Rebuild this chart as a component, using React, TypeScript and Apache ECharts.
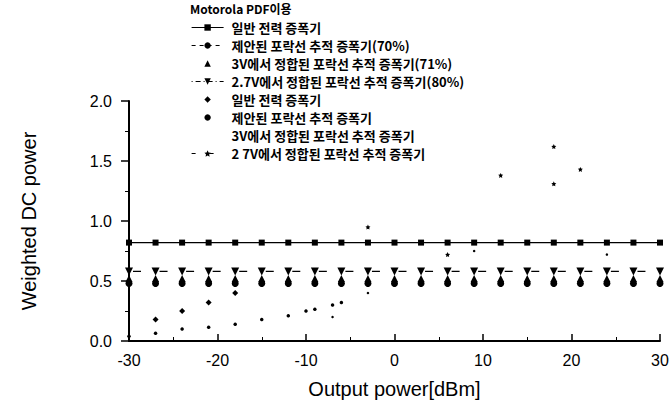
import React, { useEffect, useRef } from "react";
import * as echarts from "echarts";

// ---- Data ----
const outputPower = [-30, -27, -24, -21, -18, -15, -12, -9, -6, -3, 0, 3, 6, 9, 12, 15, 18, 21, 24, 27, 30];

const generalPA = [0.82, 0.82, 0.82, 0.82, 0.82, 0.82, 0.82, 0.82, 0.82, 0.82, 0.82, 0.82, 0.82, 0.82, 0.82, 0.82, 0.82, 0.82, 0.82, 0.82, 0.82];
const proposedET70 = [0.48, 0.48, 0.48, 0.48, 0.48, 0.48, 0.48, 0.48, 0.48, 0.48, 0.48, 0.48, 0.48, 0.48, 0.48, 0.48, 0.48, 0.48, 0.48, 0.48, 0.48];
const matched3V71 = [0.52, 0.52, 0.52, 0.52, 0.52, 0.52, 0.52, 0.52, 0.52, 0.52, 0.52, 0.52, 0.52, 0.52, 0.52, 0.52, 0.52, 0.52, 0.52, 0.52, 0.52];
const matched27V80 = [0.58, 0.58, 0.58, 0.58, 0.58, 0.58, 0.58, 0.58, 0.58, 0.58, 0.58, 0.58, 0.58, 0.58, 0.58, 0.58, 0.58, 0.58, 0.58, 0.58, 0.58];

const generalMeasured = [[-27, 0.18], [-24, 0.25], [-21, 0.32], [-18, 0.40]];
const proposedMeasured = [[-30, 0.04], [-27, 0.065], [-24, 0.10], [-21, 0.115], [-18, 0.14], [-15, 0.18], [-12, 0.21], [-10, 0.25], [-9, 0.265], [-7, 0.30], [-6, 0.32]];
const matched3VMeasured = [[-7, 0.20], [-3, 0.40], [9, 0.75], [24, 0.72]];
const matched27VMeasured = [[-3, 0.95], [6, 0.72], [12, 1.38], [18, 1.62], [18, 1.31], [21, 1.43]];

const seriesNames = [
  "일반 전력 증폭기",
  "제안된 포락선 추적 증폭기(70%)",
  "3V에서 정합된 포락선 추적 증폭기(71%)",
  "2.7V에서 정합된 포락선 추적 증폭기(80%)",
  "일반 전력 증폭기 ",
  "제안된 포락선 추적 증폭기",
  "3V에서 정합된 포락선 추적 증폭기",
  "2 7V에서 정합된 포락선 추적 증폭기",
];
const legendTitle = "Motorola PDF이용";
const xAxisName = "Output power[dBm]";
const yAxisName = "Weighted DC power";

const STAR = "path://M0,-10 L2.9,-4 L9.5,-3.1 L4.8,1.5 L5.9,8.1 L0,5 L-5.9,8.1 L-4.8,1.5 L-9.5,-3.1 L-2.9,-4 Z";
const AXIS_FONT = "'Liberation Sans', Arial, sans-serif";
const KR_FONT = "'Noto Sans CJK KR', 'Liberation Sans', sans-serif";

function pairs(xs: number[], ys: number[]) {
  return xs.map((x, i) => [x, ys[i]]);
}

const hidden = { width: 0, opacity: 0 };

export default function App() {
  const ref = useRef<HTMLDivElement>(null);
  useEffect(() => {
    if (!ref.current) return;
    const chart = echarts.init(ref.current, null, { renderer: "svg" });
    const black = "#000";
    chart.setOption({
      animation: false,
      backgroundColor: "#fff",
      grid: { left: 129, right: 12, top: 101, bottom: 59 },
      graphic: [
        {
          type: "text",
          left: 190,
          top: 2,
          style: { text: legendTitle, fontSize: 12, fontWeight: "bold", fontFamily: KR_FONT, fill: black },
        },
      ],
      legend: {
        orient: "vertical",
        left: 186,
        top: 16,
        itemWidth: 32,
        itemHeight: 8,
        itemGap: 5,
        selectedMode: false,
        formatter: (n: string) => n.trim(),
        textStyle: { fontSize: 13, fontWeight: "bold", fontFamily: KR_FONT, color: black, padding: [0, 0, 0, 3] },
        data: [
          { name: seriesNames[0], lineStyle: { opacity: 1, width: 1.2 } },
          { name: seriesNames[1], lineStyle: { opacity: 1, width: 1.2, type: [4, 4] } },
          { name: seriesNames[2] },
          { name: seriesNames[3], lineStyle: { opacity: 1, width: 1.2, type: [5, 3, 1, 3] } },
          { name: seriesNames[4] },
          { name: seriesNames[5] },
          { name: seriesNames[6], itemStyle: { opacity: 0 } },
          { name: seriesNames[7], lineStyle: { opacity: 1, width: 1.2, type: [4, 14] } },
        ],
      },
      xAxis: {
        type: "value",
        min: -30,
        max: 30,
        interval: 10,
        name: xAxisName,
        nameLocation: "middle",
        nameGap: 38,
        nameTextStyle: { fontSize: 20, fontFamily: AXIS_FONT, color: black },
        axisLine: { lineStyle: { color: black, width: 2 } },
        axisTick: { inside: true, length: 7, lineStyle: { color: black, width: 1.5 } },
        minorTick: { show: true, splitNumber: 2, length: 4, lineStyle: { color: black, width: 1 } },
        axisLabel: { margin: 11, fontSize: 16, fontFamily: AXIS_FONT, color: black },
        splitLine: { show: false },
      },
      yAxis: {
        type: "value",
        min: 0,
        max: 2,
        interval: 0.5,
        name: yAxisName,
        nameLocation: "middle",
        nameGap: 90,
        nameTextStyle: { fontSize: 20, fontFamily: AXIS_FONT, color: black },
        axisLine: { onZero: false, lineStyle: { color: black, width: 2 } },
        axisTick: { inside: false, length: 8, lineStyle: { color: black, width: 1.5 } },
        minorTick: { show: true, splitNumber: 2, length: 4, lineStyle: { color: black, width: 1 } },
        axisLabel: { margin: 17, fontSize: 16, fontFamily: AXIS_FONT, color: black, formatter: (v: number) => v.toFixed(1) },
        splitLine: { show: false },
      },
      series: [
        {
          name: seriesNames[0],
          type: "line",
          data: pairs(outputPower, generalPA),
          symbol: "rect",
          symbolSize: 6,
          itemStyle: { color: black },
          lineStyle: { color: black, width: 1.2 },
          z: 3,
        },
        {
          name: seriesNames[1],
          type: "line",
          data: pairs(outputPower, proposedET70),
          symbol: "circle",
          symbolSize: 7,
          itemStyle: { color: black },
          lineStyle: { color: black, ...hidden },
          z: 3,
        },
        {
          name: seriesNames[2],
          type: "line",
          data: pairs(outputPower, matched3V71),
          symbol: "triangle",
          symbolSize: 7,
          itemStyle: { color: black },
          lineStyle: { color: black, ...hidden },
          z: 3,
        },
        {
          name: seriesNames[3],
          type: "line",
          data: pairs(outputPower, matched27V80),
          symbol: "triangle",
          symbolRotate: 180,
          symbolSize: 8,
          itemStyle: { color: black },
          lineStyle: { color: black, width: 1.2, type: [8, 18.55], dashOffset: -4 },
          z: 3,
        },
        {
          name: seriesNames[4],
          type: "line",
          data: generalMeasured,
          symbol: "diamond",
          symbolSize: 6,
          itemStyle: { color: black },
          lineStyle: { color: black, ...hidden },
        },
        {
          name: seriesNames[5],
          type: "line",
          data: proposedMeasured,
          symbol: "circle",
          symbolSize: 3.5,
          itemStyle: { color: black },
          lineStyle: { color: black, ...hidden },
        },
        {
          name: seriesNames[6],
          type: "line",
          data: matched3VMeasured,
          symbol: "circle",
          symbolSize: 2.5,
          itemStyle: { color: black },
          lineStyle: { color: black, ...hidden },
        },
        {
          name: seriesNames[7],
          type: "line",
          data: matched27VMeasured,
          symbol: STAR,
          symbolSize: 5,
          itemStyle: { color: black },
          lineStyle: { color: black, ...hidden },
        },
      ],
    });
    return () => chart.dispose();
  }, []);
  return (
    <div
      ref={ref}
      style={{ position: "fixed", left: 0, top: 0, width: 672, height: 404, background: "#fff" }}
    />
  );
}
